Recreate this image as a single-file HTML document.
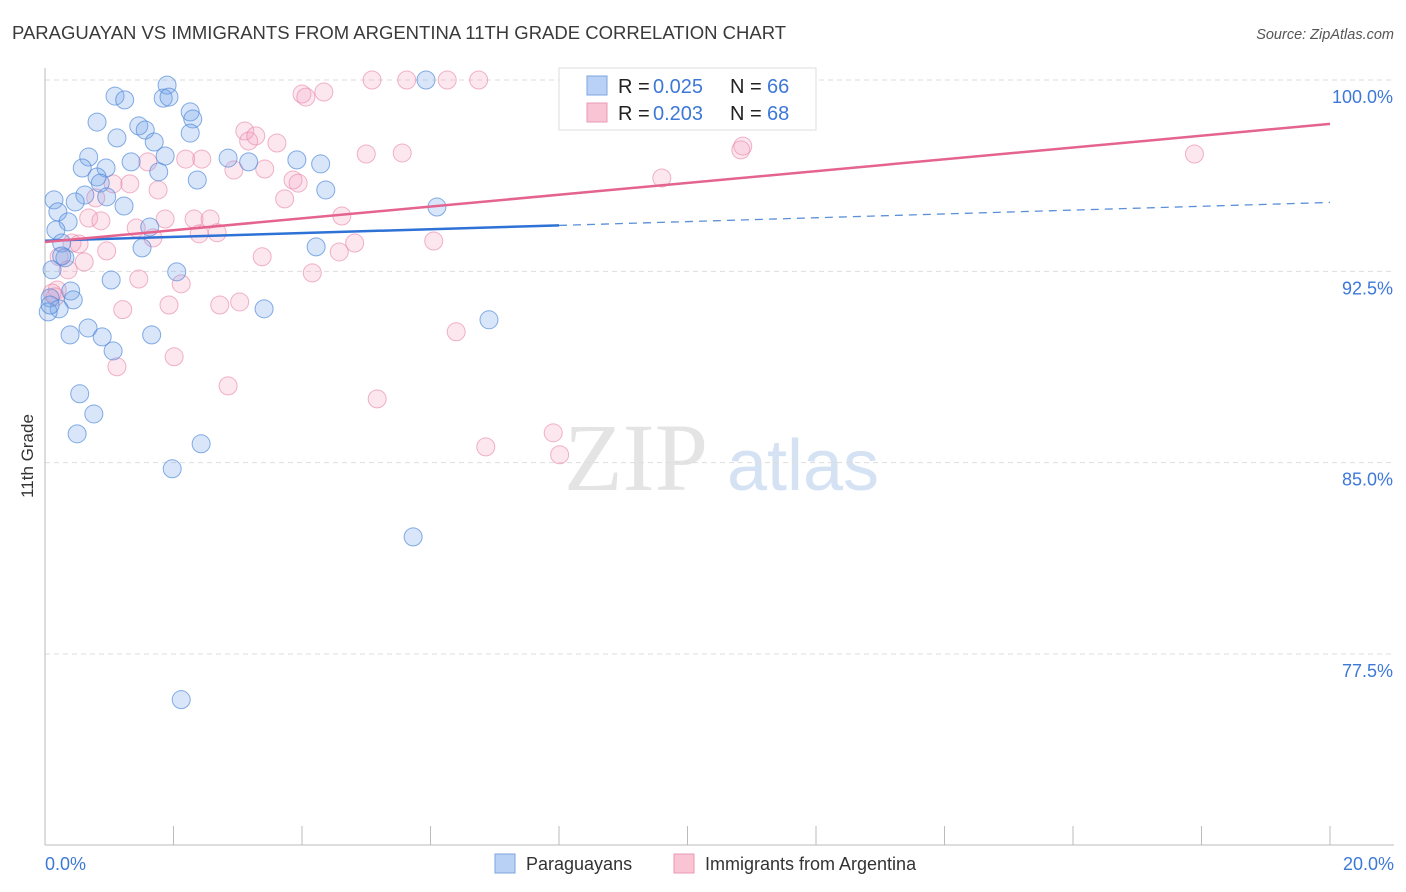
<!DOCTYPE html>
<html><head><meta charset="utf-8"><style>
html,body{margin:0;padding:0;background:#fff;width:1406px;height:892px;overflow:hidden;font-family:"Liberation Sans",sans-serif}
</style></head><body>
<svg id="chart" width="1406" height="892" xmlns="http://www.w3.org/2000/svg" font-family="Liberation Sans, sans-serif">
<text x="12" y="39" font-size="18.5" fill="#3a3a3a">PARAGUAYAN VS IMMIGRANTS FROM ARGENTINA 11TH GRADE CORRELATION CHART</text>
<text x="1394" y="39" font-size="14.5" fill="#555" font-style="italic" text-anchor="end">Source: ZipAtlas.com</text>
<text transform="translate(33,456) rotate(-90)" font-size="17" fill="#333" text-anchor="middle">11th Grade</text>
<g id="watermark">
<text x="636" y="490" font-size="96" font-family="Liberation Serif, serif" fill="#e4e4e4" text-anchor="middle">ZIP</text>
<text x="803" y="490" font-size="72" fill="#d4e2f3" text-anchor="middle">atlas</text>
</g>
<g id="grid"></g>
<g id="axes"></g>
<g id="pts"></g>
<g id="trends"></g>
<g>
<rect x="559" y="68" width="257" height="62" fill="#fff" stroke="#ddd"/>
<rect x="587" y="76" width="20" height="19" fill="#b8d1f5" stroke="#7ea6e0"/>
<rect x="587" y="103" width="20" height="19" fill="#f9c4d4" stroke="#eb9ab5"/>
<text x="618" y="93" font-size="20" fill="#222">R =</text>
<text x="653" y="93" font-size="20" fill="#3d78d8">0.025</text>
<text x="730" y="93" font-size="20" fill="#222">N =</text>
<text x="767" y="93" font-size="20" fill="#3d78d8">66</text>
<text x="618" y="120" font-size="20" fill="#222">R =</text>
<text x="653" y="120" font-size="20" fill="#3d78d8">0.203</text>
<text x="730" y="120" font-size="20" fill="#222">N =</text>
<text x="767" y="120" font-size="20" fill="#3d78d8">68</text>
</g>
<g>
<rect x="495" y="854" width="20" height="19" fill="#b8d1f5" stroke="#7ea6e0"/>
<text x="526" y="870" font-size="18" fill="#333">Paraguayans</text>
<rect x="674" y="854" width="20" height="19" fill="#f9c4d4" stroke="#eb9ab5"/>
<text x="705" y="870" font-size="18" fill="#333">Immigrants from Argentina</text>
</g>
</svg>
<script>
const blueX=[1.90,5.93,1.09,1.24,1.84,1.93,2.26,2.30,0.81,1.46,1.56,2.26,1.12,1.70,1.87,0.68,1.34,2.85,3.92,4.29,0.58,0.95,1.77,0.81,0.86,2.37,4.37,0.62,0.14,0.96,0.47,1.23,6.10,0.20,0.36,1.63,0.17,0.26,1.51,4.22,0.31,0.11,2.05,1.03,0.40,0.08,0.44,0.22,0.05,3.41,6.91,0.67,0.39,0.89,1.66,1.06,0.54,0.76,0.50,2.43,1.98,5.73,2.12,3.17,0.08,0.26];
const blueY=[99.80,100,99.37,99.22,99.29,99.33,98.75,98.47,98.35,98.20,98.04,97.92,97.73,97.57,97.02,96.98,96.79,96.94,96.87,96.71,96.55,96.55,96.40,96.20,95.96,96.08,95.69,95.49,95.30,95.42,95.22,95.06,95.02,94.83,94.44,94.24,94.12,93.61,93.42,93.46,93.03,92.56,92.48,92.16,91.73,91.46,91.38,91.03,90.91,91.03,90.60,90.28,90.01,89.93,90.01,89.38,87.70,86.91,86.13,85.74,84.76,82.09,75.71,96.79,91.18,93.10];
const pinkX=[5.09,5.63,6.26,6.75,8.18,8.95,4.00,4.06,4.34,3.11,3.17,3.28,3.61,5.00,5.56,10.83,10.86,17.89,1.60,2.19,2.44,2.94,3.42,3.86,3.94,1.06,1.32,1.76,9.60,3.73,0.79,0.68,0.87,1.87,2.32,2.57,4.62,1.42,2.40,2.68,1.68,0.42,0.53,0.96,4.82,6.05,3.38,4.58,0.22,0.61,0.36,4.16,1.46,2.12,0.19,0.11,0.16,1.93,2.72,3.03,1.21,6.40,2.01,1.12,2.85,5.17,7.91,6.86,8.01];
const pinkY=[100,100,100,100,100,100,99.45,99.33,99.53,98.00,97.61,97.81,97.53,97.10,97.14,97.26,97.41,97.10,96.79,96.90,96.90,96.47,96.51,96.08,95.96,95.93,95.93,95.69,96.16,95.34,95.38,94.59,94.48,94.55,94.55,94.55,94.67,94.20,93.97,94.01,93.81,93.61,93.57,93.30,93.61,93.69,93.07,93.26,93.07,92.87,92.56,92.44,92.20,92.01,91.77,91.65,91.50,91.18,91.18,91.30,91.00,90.13,89.15,88.76,88.01,87.50,86.17,85.62,85.31];
const blueTrend=[93.70,95.20];
const pinkTrend=[93.65,98.28];
const yTicks=[100,92.5,85,77.5];
const yTickLabels=["100.0%","92.5%","85.0%","77.5%"];
const xTicks=[0,2,4,6,8,10,12,14,16,18,20];

const NS="http://www.w3.org/2000/svg";
const X=v=>45+v*(1330-45)/20;
const Y=v=>80+(100-v)*(654-80)/22.5;
function mk(parent,tag,attrs){const e=document.createElementNS(NS,tag);for(const k in attrs)e.setAttribute(k,attrs[k]);parent.appendChild(e);return e;}
const grid=document.getElementById('grid'),axes=document.getElementById('axes'),pts=document.getElementById('pts'),tr=document.getElementById('trends');
yTicks.forEach((t,i)=>{
 const l=mk(grid,'line',{x1:45,x2:1394,y1:Y(t),y2:Y(t),stroke:'#ddd','stroke-dasharray':'5,4'});
 
 
 const tx=mk(axes,'text',{x:1393,y:Y(t)+23,'font-size':18,fill:'#3d78d8','text-anchor':'end'});
 tx.textContent=yTickLabels[i];
 
 
});
const ya=mk(axes,'line',{x1:45,x2:45,y1:68,y2:845,stroke:'#bbb'});


const xa=mk(axes,'line',{x1:45,x2:1394,y1:845,y2:845,stroke:'#bbb'});


xTicks.forEach(t=>{
 const l=mk(axes,'line',{x1:X(t),x2:X(t),y1:826,y2:845,stroke:'#bbb'});
 
 
});
const x0=mk(axes,'text',{x:45,y:870,'font-size':18,fill:'#3d78d8'});x0.textContent='0.0%';


const x1=mk(axes,'text',{x:1394,y:870,'font-size':18,fill:'#3d78d8','text-anchor':'end'});x1.textContent='20.0%';


function dots(xs,ys,fill,stroke,name){xs.forEach((v,i)=>{
 const c=mk(pts,'circle',{cx:X(v),cy:Y(ys[i]),r:9,fill:fill,stroke:stroke,'stroke-width':1});
 
 
});}
dots(pinkX,pinkY,'rgba(244,160,190,0.25)','rgba(232,130,165,0.6)','argentina-point');
dots(blueX,blueY,'rgba(120,165,235,0.28)','rgba(70,130,215,0.65)','paraguayan-point');
const bAt=v=>blueTrend[0]+(blueTrend[1]-blueTrend[0])*v/20;
const b1=mk(tr,'line',{x1:X(0),y1:Y(bAt(0)),x2:X(8),y2:Y(bAt(8)),stroke:'#2f72d6','stroke-width':2.5});


const b2=mk(tr,'line',{x1:X(8),y1:Y(bAt(8)),x2:X(20),y2:Y(bAt(20)),stroke:'#5b8fd8','stroke-width':1.3,'stroke-dasharray':'8,6'});


const p1=mk(tr,'line',{x1:X(0),y1:Y(pinkTrend[0]),x2:X(20),y2:Y(pinkTrend[1]),stroke:'#e5638f','stroke-width':2.5});


</script>
</body></html>
